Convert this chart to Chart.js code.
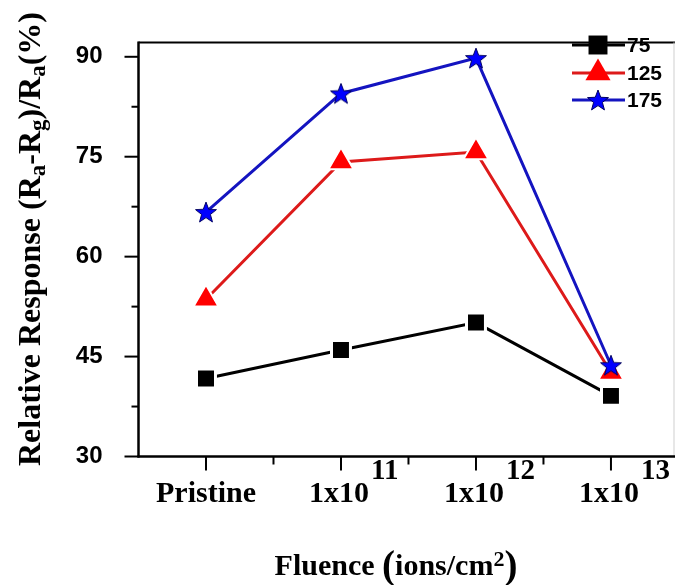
<!DOCTYPE html>
<html>
<head>
<meta charset="utf-8">
<script src="https://cdn.jsdelivr.net/npm/chart.js@4.4.1/dist/chart.umd.min.js"></script>
<style>
html, body { margin: 0; padding: 0; background: #fff; overflow: hidden; }
canvas { display: block; }
</style>
</head>
<body>
<canvas id="fluenceChart" width="675" height="585"></canvas>
<script>
// data
const categories = ['Pristine', '1x10', '1x10', '1x10'];
const exponents = ['', '11', '12', '13'];
const resp75 = [41.7, 46.0, 50.1, 39.1];
const resp125 = [53.6, 74.2, 75.7, 42.6];
const resp175 = [66.7, 84.5, 89.8, 43.7];
const yTicks = [30, 45, 60, 75, 90];
const yMinorTicks = [37.5, 52.5, 67.5, 82.5];
const seriesLabels = ['75', '125', '175'];

const serif = '"Liberation Serif", "Times New Roman", serif';
const sans = '"Liberation Sans", Arial, sans-serif';

function makeStar(size, fill, stroke) {
    const c = document.createElement('canvas');
    c.width = size;
    c.height = size;
    const ctx = c.getContext('2d');
    const cx = size / 2, cy = size / 2 + 1;
    const outer = size / 2 - 1, inner = outer * 0.42;
    ctx.beginPath();
    for (let i = 0; i < 10; i++) {
        const r = i % 2 ? inner : outer;
        const a = -Math.PI / 2 + i * Math.PI / 5;
        ctx.lineTo(cx + r * Math.cos(a), cy + r * Math.sin(a));
    }
    ctx.closePath();
    ctx.fillStyle = fill;
    ctx.fill();
    ctx.strokeStyle = stroke;
    ctx.lineWidth = 1;
    ctx.stroke();
    return c;
}

const blueStar = makeStar(24, '#0000ff', '#000060');

const toPoints = arr => arr.map((v, i) => ({ x: i, y: v }));

const datasets = [
    {
        label: seriesLabels[0],
        data: toPoints(resp75),
        borderColor: '#000',
        borderWidth: 3,
        pointStyle: 'rect',
        pointRadius: 13.4,
        pointBackgroundColor: '#000',
        pointBorderColor: '#fff',
        pointBorderWidth: 3,
        order: 2
    },
    {
        label: seriesLabels[1],
        data: toPoints(resp125),
        borderColor: '#dd1a1a',
        borderWidth: 3,
        pointStyle: 'triangle',
        pointRadius: 14.5,
        pointBackgroundColor: '#ff0000',
        pointBorderColor: '#fff',
        pointBorderWidth: 2,
        order: 1
    },
    {
        label: seriesLabels[2],
        data: toPoints(resp175),
        borderColor: '#1414c0',
        borderWidth: 3,
        pointStyle: blueStar,
        pointRadius: 12,
        order: 0
    }
];

function hline(ctx, x1, y1, x2, y2) {
    ctx.beginPath();
    ctx.moveTo(x1, y1);
    ctx.lineTo(x2, y2);
    ctx.stroke();
}

function drawRun(ctx, parts, cx, baseY) {
    let total = 0;
    parts.forEach(p => { ctx.font = p.f; p.w = ctx.measureText(p.t).width; total += p.w; });
    let xPos = cx - total / 2;
    ctx.textAlign = 'left';
    ctx.textBaseline = 'alphabetic';
    parts.forEach(p => {
        ctx.font = p.f;
        ctx.fillText(p.t, xPos, baseY + p.dy);
        xPos += p.w;
    });
}

const axesDecor = {
    id: 'axesDecor',
    afterDraw(chart) {
        const { ctx, chartArea: a, scales: { x, y } } = chart;
        ctx.save();
        ctx.lineCap = 'butt';

        // frame
        ctx.strokeStyle = '#000';
        ctx.lineWidth = 2;
        hline(ctx, a.left, a.top, a.right + 2, a.top);
        ctx.strokeStyle = '#cfcfcf';
        ctx.lineWidth = 1;
        hline(ctx, a.right, a.top, a.right, a.bottom);
        ctx.strokeStyle = '#000';
        ctx.lineWidth = 2.5;
        hline(ctx, a.left, a.top - 1, a.left, a.bottom + 1);
        hline(ctx, a.left - 1, a.bottom, a.right + 2, a.bottom);

        // tick marks, outward
        ctx.lineWidth = 2;
        yTicks.forEach(v => {
            const py = y.getPixelForValue(v);
            hline(ctx, a.left - 14, py, a.left, py);
        });
        yMinorTicks.forEach(v => {
            const py = y.getPixelForValue(v);
            hline(ctx, a.left - 7, py, a.left, py);
        });
        categories.forEach((c, i) => {
            const px = x.getPixelForValue(i);
            hline(ctx, px, a.bottom, px, a.bottom + 14);
            if (i < categories.length - 1) {
                const pm = x.getPixelForValue(i + 0.5);
                hline(ctx, pm, a.bottom, pm, a.bottom + 8);
            }
        });

        // category labels with superscripts
        ctx.fillStyle = '#000';
        ctx.textBaseline = 'alphabetic';
        categories.forEach((c, i) => {
            const px = x.getPixelForValue(i);
            ctx.font = 'bold 30px ' + serif;
            if (!exponents[i]) {
                ctx.textAlign = 'center';
                ctx.fillText(c, px, 502);
                return;
            }
            const w = ctx.measureText(c).width;
            ctx.textAlign = 'left';
            ctx.fillText(c, px - w / 2 - 2, 502);
            ctx.font = 'bold 29px ' + serif;
            ctx.fillText(exponents[i], px + w / 2, 479);
        });

        // x title: Fluence (ions/cm2)
        drawRun(ctx, [
            { t: 'Fluence ', f: 'bold 30px ' + serif, dy: 0 },
            { t: '(', f: 'bold 39px ' + serif, dy: 3 },
            { t: 'ions/cm', f: 'bold 30px ' + serif, dy: 0 },
            { t: '2', f: 'bold 22px ' + serif, dy: -9 },
            { t: ')', f: 'bold 39px ' + serif, dy: 3 }
        ], 396, 575);

        // y title, rotated
        ctx.save();
        ctx.translate(40, 239);
        ctx.rotate(-Math.PI / 2);
        const big = 'bold 32px ' + serif, sub = 'bold 23px ' + serif;
        drawRun(ctx, [
            { t: 'Relative Response (R', f: big, dy: 0 },
            { t: 'a', f: sub, dy: 5 },
            { t: '-R', f: big, dy: 0 },
            { t: 'g', f: sub, dy: 5 },
            { t: ')/R', f: big, dy: 0 },
            { t: 'a', f: sub, dy: 5 },
            { t: '(%)', f: big, dy: 0 }
        ], 0, 0);
        ctx.restore();

        // legend
        const rows = [45, 73, 100];
        chart.data.datasets.forEach((ds, i) => {
            const ly = rows[i];
            ctx.strokeStyle = ds.borderColor;
            ctx.lineWidth = 3;
            hline(ctx, 572, ly, 625, ly);
            ctx.fillStyle = ds.pointBackgroundColor || ds.borderColor;
            Chart.helpers.drawPoint(ctx, {
                pointStyle: ds.pointStyle,
                radius: ds.pointRadius,
                borderWidth: 0,
                rotation: 0
            }, 598, ly);
            ctx.fillStyle = '#000';
            ctx.font = 'bold 21px ' + sans;
            ctx.textAlign = 'left';
            ctx.textBaseline = 'middle';
            ctx.fillText(ds.label, 627, ly + 1);
            ctx.textBaseline = 'alphabetic';
        });

        ctx.restore();
    }
};

new Chart(document.getElementById('fluenceChart').getContext('2d'), {
    type: 'line',
    data: { datasets },
    options: {
        responsive: false,
        animation: false,
        layout: { autoPadding: false, padding: { top: 25, right: 1, left: 0, bottom: 0 } },
        plugins: {
            legend: { display: false },
            tooltip: { enabled: false }
        },
        scales: {
            x: {
                type: 'linear',
                min: -0.5,
                max: 3.467,
                grid: { display: false },
                border: { display: false },
                ticks: { display: false },
                afterFit: s => { s.height = 128.5; }
            },
            y: {
                min: 30,
                max: 92.16,
                grid: { display: false },
                border: { display: false },
                ticks: {
                    color: '#000',
                    padding: 28,
                    font: { family: sans, size: 24, weight: 'bold' }
                },
                afterBuildTicks: s => { s.ticks = yTicks.map(v => ({ value: v })); },
                afterFit: s => { s.width = 138.5; }
            }
        }
    },
    plugins: [axesDecor]
});
</script>
</body>
</html>
